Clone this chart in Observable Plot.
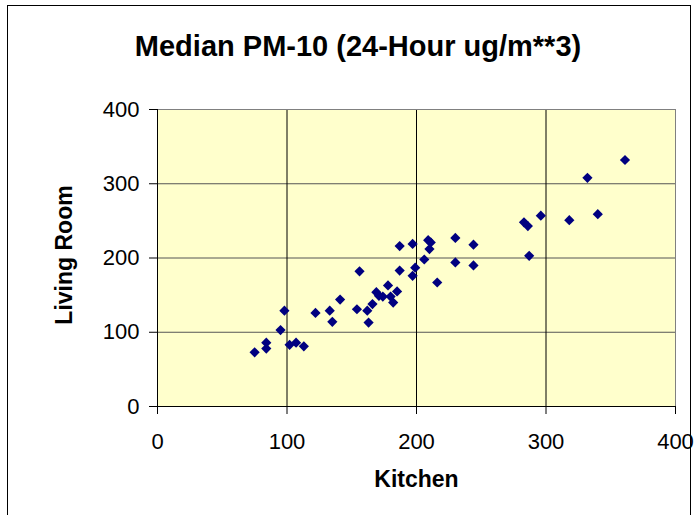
<!DOCTYPE html>
<html><head><meta charset="utf-8">
<script src="https://cdn.jsdelivr.net/npm/d3@7"></script>
<script src="https://cdn.jsdelivr.net/npm/@observablehq/plot@0.6"></script>
<style>
html,body{margin:0;padding:0;background:#fff;}
#page{position:relative;width:697px;height:515px;overflow:hidden;font-family:"Liberation Sans",Arial,sans-serif;}
#border{position:absolute;left:7px;top:5px;width:684px;height:540px;border:1px solid #000;box-sizing:border-box;}
#title{position:absolute;left:0;top:32px;width:716px;text-align:center;font-weight:bold;font-size:29px;line-height:28px;color:#000;}
#chart{position:absolute;left:0;top:70px;}
</style></head><body>
<div id="page"><div id="border"></div><div id="title"></div><div id="chart"></div></div>
<script>
const titleText = "Median PM-10 (24-Hour ug/m**3)";
const xLabel = "Kitchen";
const yLabel = "Living Room";
const xTicks = [0, 100, 200, 300, 400];
const yTicks = [0, 100, 200, 300, 400];
const gridValues = [100, 200, 300];
const kitchen = [75, 84, 84, 95, 98, 102, 107, 113, 122, 133, 135, 141, 154, 156, 162, 163, 166, 169, 171, 174, 178, 180, 182, 185, 187, 187, 197, 197, 199, 206, 209, 211, 210, 216, 230, 230, 244, 244, 283, 286, 287, 296, 318, 332, 340, 361];
const livingRoom = [73, 86, 78, 103, 129, 83, 86, 81, 126, 129, 114, 144, 131, 182, 129, 113, 138, 154, 149, 148, 163, 148, 140, 155, 183, 216, 219, 176, 187, 198, 224, 221, 212, 167, 227, 194, 218, 190, 248, 243, 203, 257, 251, 308, 259, 332];

document.getElementById("title").textContent = titleText;
const data = kitchen.map((k, i) => ({kitchen: k, living: livingRoom[i]}));

const chart = Plot.plot({
  width: 697, height: 445,
  marginLeft: 157, marginRight: 22, marginTop: 39, marginBottom: 109,
  style: {background: "transparent", fontFamily: "'Liberation Sans', Arial, sans-serif", color: "#000", overflow: "visible"},
  x: {domain: [0, 400], label: null},
  y: {domain: [0, 400], label: null},
  marks: [
    Plot.frame({fill: "#FFFFCC", stroke: null}),
    Plot.ruleY(gridValues, {stroke: "#555"}),
    Plot.ruleX(gridValues, {stroke: "#000"}),
    Plot.ruleY([400], {stroke: "#808080"}),
    Plot.ruleX([400], {stroke: "#808080"}),
    Plot.ruleX([0], {stroke: "#000"}),
    Plot.ruleY([0], {stroke: "#000"}),
    Plot.axisX(xTicks, {tickSize: 8, tickPadding: 19, fontSize: 22, label: null}),
    Plot.axisY(yTicks, {tickSize: 8, tickPadding: 10, fontSize: 22, label: null}),
    Plot.dot(data, {x: "kitchen", y: "living", symbol: "diamond2", r: 4.6, fill: "#000080", stroke: null}),
    Plot.text([xLabel], {frameAnchor: "bottom", dy: 80, fontSize: 23, fontWeight: "bold"}),
    Plot.text([yLabel], {frameAnchor: "left", textAnchor: "middle", dx: -93, dy: -3, rotate: -90, fontSize: 23, fontWeight: "bold"})
  ]
});
document.getElementById("chart").appendChild(chart);
</script>
</body></html>
